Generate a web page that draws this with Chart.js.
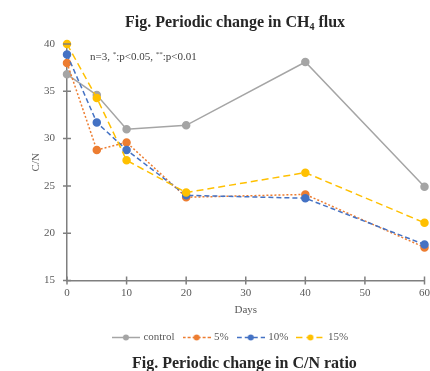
<!DOCTYPE html>
<html>
<head>
<meta charset="utf-8">
<script src="https://cdn.jsdelivr.net/npm/chart.js@4/dist/chart.umd.min.js"></script>
<style>
  body { margin: 0; background: #fff; }
  #wrap { position: relative; width: 430px; height: 371px; overflow: hidden; }
  canvas { position: absolute; left: 0; top: 0; }
  .title { position: absolute; font-family: 'Liberation Serif', 'Times New Roman', serif;
           font-weight: bold; font-size: 16px; line-height: 20px; color: #262626; white-space: nowrap; }
  .title sub { font-size: 10px; vertical-align: -3px; line-height: 0; }
  #note { position: absolute; left: 90px; top: 49px; font-family: 'Liberation Serif', serif;
          font-size: 11px; line-height: 14px; color: #404040; white-space: nowrap; }
  #note sup { font-size: 7px; vertical-align: 4px; line-height: 0; }
</style>
</head>
<body>
<div id="wrap">
  <canvas id="cnChart" width="430" height="371"></canvas>
  <div class="title" style="left:125px; top:12px;">Fig. Periodic change in CH<sub>4</sub> flux</div>
  <div id="note">n=3, <sup>*</sup>:p&lt;0.05, <sup>**</sup>:p&lt;0.01</div>
  <div class="title" style="left:132px; top:353px;">Fig. Periodic change in C/N ratio</div>
</div>
<script>
// Datos
const days = [0, 5, 10, 20, 40, 60];
const control = [36.8, 34.6, 31.0, 31.4, 38.1, 24.9];
const pct5 = [38.0, 28.8, 29.6, 23.8, 24.1, 18.5];
const pct10 = [38.9, 31.7, 28.8, 24.0, 23.7, 18.8];
const pct15 = [40.0, 34.3, 27.7, 24.3, 26.4, 21.1];
const seriesNames = ['control', '5%', '10%', '15%'];
const xTicks = [0, 10, 20, 30, 40, 50, 60];
const yTicks = [15, 20, 25, 30, 35, 40];

// Estilos de cada serie
const colors = ['#A5A5A5', '#ED7D31', '#4472C4', '#FFC000'];
const dashes = [[], [2, 2], [5, 3], [7, 4]];
const legendDashes = [[], [3, 2], [5, 3], [6, 4]];

Chart.defaults.font.family = "'Liberation Serif', 'Times New Roman', serif";
Chart.defaults.font.size = 11;
Chart.defaults.color = '#595959';

function toPoints(values) {
    return values.map((v, i) => ({ x: days[i], y: v }));
}

// Icono de leyenda: línea con marcador en el centro
function legendIcon(color, dash) {
    const c = document.createElement('canvas');
    c.width = 28;
    c.height = 9;
    const g = c.getContext('2d');
    g.strokeStyle = color;
    g.lineWidth = 1.5;
    g.setLineDash(dash);
    g.beginPath();
    g.moveTo(0, 4.5);
    g.lineTo(28, 4.5);
    g.stroke();
    g.fillStyle = color;
    g.beginPath();
    g.arc(14, 4.5, 3, 0, Math.PI * 2);
    g.fill();
    return c;
}

// Marcas de eje que cruzan la línea del eje
const crossTicks = {
    id: 'crossTicks',
    afterLayout(chart) {
        // la leyenda del original está algo desplazada a la derecha
        chart.legend.left += 16;
        chart.legend.right += 16;
    },
    afterDraw(chart) {
        const ctx = chart.ctx;
        const xs = chart.scales.x;
        const ys = chart.scales.y;
        ctx.save();
        ctx.strokeStyle = '#7f7f7f';
        ctx.lineWidth = 1.5;
        ctx.beginPath();
        xTicks.forEach(t => {
            const px = xs.getPixelForValue(t);
            ctx.moveTo(px, ys.bottom - 4);
            ctx.lineTo(px, ys.bottom + 4);
        });
        yTicks.forEach(t => {
            const py = ys.getPixelForValue(t);
            ctx.moveTo(xs.left - 4, py);
            ctx.lineTo(xs.left + 4, py);
        });
        ctx.stroke();
        ctx.restore();
    }
};

const allSeries = [control, pct5, pct10, pct15];

new Chart(document.getElementById('cnChart'), {
    type: 'line',
    data: {
        datasets: allSeries.map((s, i) => ({
            label: seriesNames[i],
            data: toPoints(s),
            borderColor: colors[i],
            backgroundColor: colors[i],
            pointBackgroundColor: colors[i],
            pointBorderColor: colors[i],
            borderWidth: 1.5,
            borderDash: dashes[i],
            pointRadius: 3.5,
            tension: 0,
            fill: false,
            clip: false,
            order: 4 - i
        }))
    },
    options: {
        responsive: false,
        animation: false,
        layout: { padding: { top: 44, right: 0, left: 0, bottom: 18 } },
        plugins: {
            tooltip: { enabled: false },
            legend: {
                position: 'bottom',
                labels: {
                    usePointStyle: true,
                    pointStyleWidth: 24,
                    padding: 10,
                    color: '#595959',
                    font: { size: 11 },
                    generateLabels(chart) {
                        const items = Chart.defaults.plugins.legend.labels.generateLabels(chart);
                        items.sort((a, b) => a.datasetIndex - b.datasetIndex);
                        return items.map(it => {
                            it.pointStyle = legendIcon(colors[it.datasetIndex], legendDashes[it.datasetIndex]);
                            return it;
                        });
                    }
                }
            }
        },
        scales: {
            x: {
                type: 'linear',
                min: 0,
                max: 60,
                ticks: { stepSize: 10, padding: 6, color: '#595959' },
                grid: { display: false, drawTicks: false },
                border: { display: true, color: '#7f7f7f', width: 1.5 },
                title: { display: true, text: 'Days', color: '#595959', font: { size: 11 }, padding: { top: 0, bottom: 5 } },
                afterFit(scale) {
                    scale.height = 41.5;
                    scale.paddingRight = 0;
                    scale.paddingLeft = 0;
                }
            },
            y: {
                min: 15,
                max: 40,
                ticks: { stepSize: 5, padding: 12, color: '#595959' },
                grid: { display: false, drawTicks: false },
                border: { display: true, color: '#7f7f7f', width: 1.5 },
                title: { display: true, text: 'C/N', color: '#595959', font: { size: 11 }, padding: { top: 30, bottom: 0 } },
                afterFit(scale) {
                    scale.width = 67;
                }
            }
        }
    },
    plugins: [crossTicks]
});
</script>
</body>
</html>
